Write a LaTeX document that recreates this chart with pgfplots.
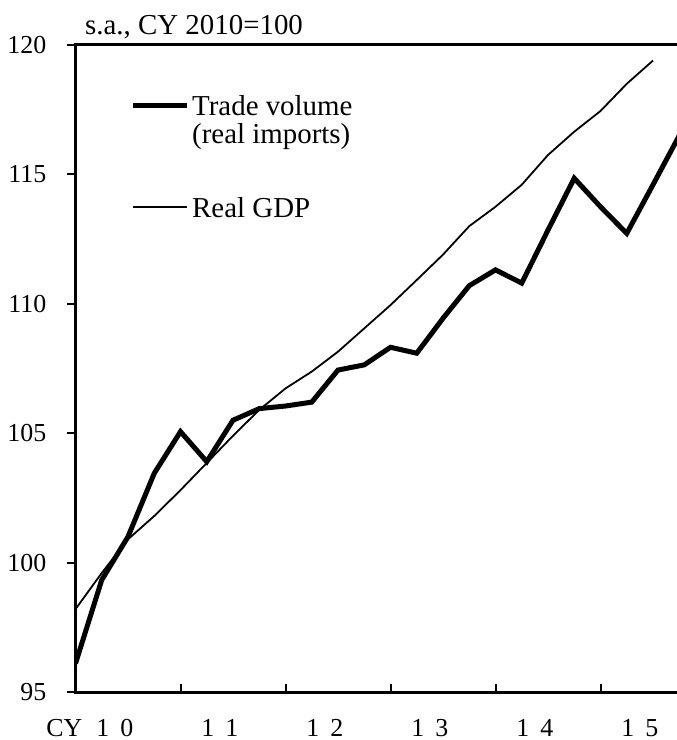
\documentclass[border=0pt]{standalone}
\usepackage{fontspec}
\setmainfont{Liberation Serif}
\usepackage{pgfplots}
\pgfplotsset{compat=1.18}
\usepackage{pgfplotstable}

\pgfplotstableread{
q trade
0 96.1
1 99.33
2 101.0
3 103.45
4 105.06
5 103.9
6 105.5
7 105.95
8 106.05
9 106.2
10 107.44
11 107.64
12 108.32
13 108.09
14 109.44
15 110.7
16 111.31
17 110.8
18 112.85
19 114.85
20 113.75
21 112.72
22 114.6
23 116.5
}\tradetab

\pgfplotstableread{
q gdp
0 98.2
1 99.6
2 100.9
3 101.8
4 102.8
5 103.85
6 104.9
7 105.9
8 106.73
9 107.38
10 108.15
11 109.05
12 109.95
13 110.92
14 111.9
15 113.0
16 113.75
17 114.6
18 115.75
19 116.65
20 117.45
21 118.5
22 119.4
}\gdptab

\begin{document}
\begin{tikzpicture}
\begin{axis}[
  scale only axis,
  width=603.75bp, height=647bp,
  xmin=0, xmax=23, ymin=95, ymax=120,
  clip mode=individual,
  axis x line*=box, axis y line*=left,
  axis line style={line width=3bp, line cap=rect},
  xtick={4,8,12,16,20}, xticklabels={},
  xtick pos=bottom, ytick pos=left,
  ytick={95,100,105,110,115,120},
  x tick style={line width=2bp, black},
  y tick style={line width=2bp, black},
  xtick align=inside, ytick align=outside,
  major tick length=8bp,
  extra x ticks={1.5,5.5,9.5,13.5,17.5,21.5},
  extra x tick labels={{\llap{CY\hspace{14bp}}1\hspace{11bp}0},{1\hspace{11bp}1},{1\hspace{11bp}2},{1\hspace{11bp}3},{1\hspace{11bp}4},{1\hspace{11bp}5}},
  extra x tick style={major tick length=0pt, xticklabel style={anchor=base, yshift=-44bp}},
  /pgf/number format/assume math mode=true,
  tick label style={font=\fontsize{26}{30}\selectfont, text=black},
  yticklabel style={anchor=east, inner sep=0pt, xshift=-21bp},
  legend style={at={(rel axis cs:0.0903,0.9227)}, anchor=north west, draw=none, fill=none,
     inner sep=0pt, row sep=0pt, column sep=3bp,
     font=\fontsize{29}{34}\selectfont,
     nodes={inner sep=0pt, text height=20bp, text depth=8bp, anchor=base west}},
  legend cell align=left,
  legend image code/.code={\draw[#1] (0bp,10bp) -- (54bp,10bp);},
]
\addplot[black, line width=5bp, line join=miter] table[x=q, y=trade] {\tradetab};
\addlegendentry{Trade volume}
\addlegendimage{empty legend}
\addlegendentry[text depth=54bp]{(real imports)}
\addplot[black, line width=1.8bp] table[x=q, y=gdp] {\gdptab};
\addlegendentry{Real GDP}
\coordinate (O) at (rel axis cs:0,0);
\coordinate (T) at (rel axis cs:0,1);
\end{axis}
\node[anchor=base west, inner sep=0pt, font=\fontsize{29}{34}\selectfont] at ([xshift=9.5bp,yshift=10bp]T) {s.a., CY 2010=100};
\pgfresetboundingbox
\useasboundingbox ([shift={(-75.5bp,-48bp)}]O) rectangle ([shift={(601.5bp,692bp)}]O);
\end{tikzpicture}
\end{document}
